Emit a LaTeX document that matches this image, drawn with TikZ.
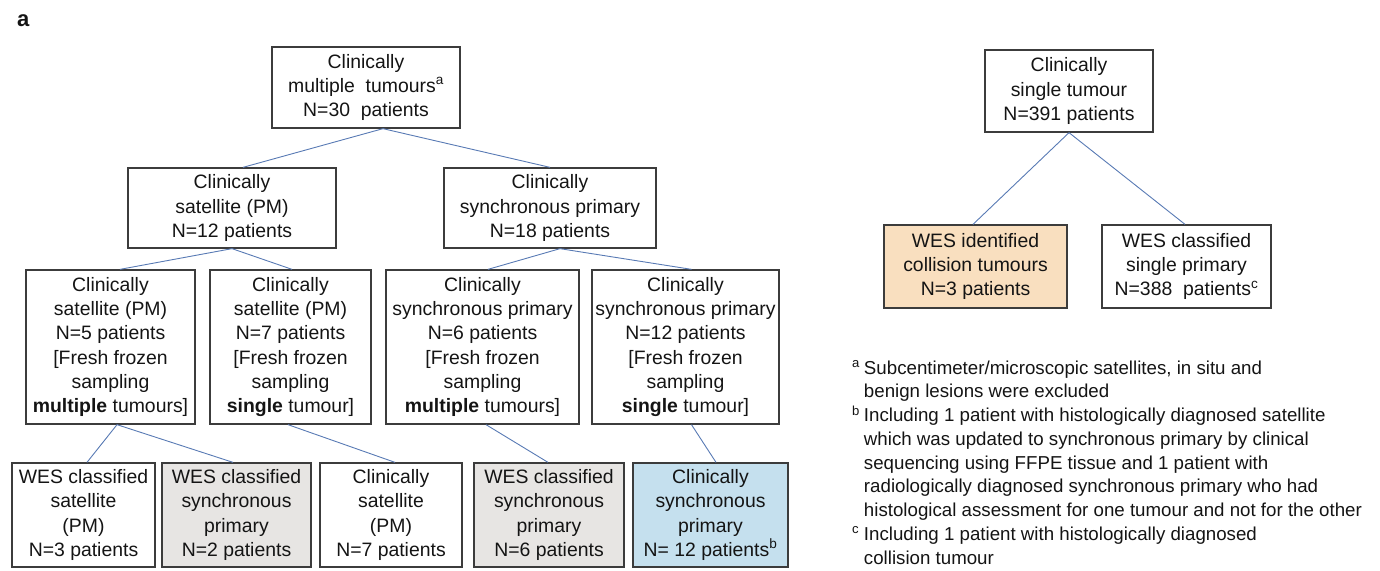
\documentclass[tikz,border=0pt]{standalone}
\usepackage{fontspec}
\setmainfont{Liberation Sans}
\definecolor{boxline}{RGB}{60,60,60}
\definecolor{conn}{RGB}{88,122,180}
\definecolor{txt}{RGB}{20,20,20}
\definecolor{grayfill}{RGB}{231,229,227}
\definecolor{bluefill}{RGB}{197,224,238}
\definecolor{orangefill}{RGB}{249,223,191}
\tikzset{
  box/.style={draw=boxline, line width=1.3pt, inner sep=0pt, align=center, text=txt,
    font={\fontsize{19.4}{24.2}\selectfont}},
  link/.style={draw=conn, line width=0.9pt},
  note/.style={anchor=base west, inner sep=0pt, text=txt, font={\fontsize{18.7}{23.75}\selectfont}}
}
\begin{document}
\begin{tikzpicture}[x=1pt,y=-1pt]
\useasboundingbox (0,0) rectangle (1380,570);
\node[anchor=base west, inner sep=0pt, font={\fontsize{22}{22}\selectfont\bfseries}, text=txt] (lbl) at (17,26) {a};

% left tree
\node[box, minimum width=188pt, minimum height=81pt] (top) at (366,87.5) {Clinically\\multiple\ \ tumours\textsuperscript{a}\\N=30\ \ patients};
\node[box, minimum width=208pt, minimum height=80pt] (sat) at (232,208) {Clinically\\satellite (PM)\\N=12 patients};
\node[box, minimum width=212pt, minimum height=80pt] (syn) at (550,208) {Clinically\\synchronous primary\\N=18 patients};

\node[box, minimum width=169pt, minimum height=154pt] (A) at (110.5,347) {Clinically\\satellite (PM)\\N=5 patients\\{[}Fresh frozen\\sampling\\\textbf{multiple} tumours{]}};
\node[box, minimum width=161pt, minimum height=154pt] (B) at (290.5,347) {Clinically\\satellite (PM)\\N=7 patients\\{[}Fresh frozen\\sampling\\\textbf{single} tumour{]}};
\node[box, minimum width=193pt, minimum height=154pt] (C) at (482.5,347) {Clinically\\synchronous primary\\N=6 patients\\{[}Fresh frozen\\sampling\\\textbf{multiple} tumours{]}};
\node[box, minimum width=187pt, minimum height=154pt] (D) at (685.5,347) {Clinically\\synchronous primary\\N=12 patients\\{[}Fresh frozen\\sampling\\\textbf{single} tumour{]}};

\node[box, minimum width=143pt, minimum height=104pt] (E1) at (83.5,515) {WES classified\\satellite\\(PM)\\N=3 patients};
\node[box, fill=grayfill, minimum width=149pt, minimum height=104pt] (E2) at (236.5,515) {WES classified\\synchronous\\primary\\N=2 patients};
\node[box, minimum width=142pt, minimum height=104pt] (E3) at (391,515) {Clinically\\satellite\\(PM)\\N=7 patients};
\node[box, fill=grayfill, minimum width=150pt, minimum height=104pt] (E4) at (549,515) {WES classified\\synchronous\\primary\\N=6 patients};
\node[box, fill=bluefill, minimum width=155pt, minimum height=104pt] (E5) at (710.5,515) {Clinically\\synchronous\\primary\\N= 12 patients\textsuperscript{b}};

% right tree
\node[box, minimum width=168pt, minimum height=82pt] (single) at (1069,91) {Clinically\\single tumour\\N=391 patients};
\node[box, fill=orangefill, minimum width=183pt, minimum height=83pt] (coll) at (975.5,266.5) {WES identified\\collision tumours\\N=3 patients};
\node[box, minimum width=169pt, minimum height=83pt] (sp) at (1186.5,266.5) {WES classified\\single primary\\N=388\ \ patients\textsuperscript{c}};

% connectors
\draw[link] ([xshift=17pt]top.south) -- ([xshift=11pt]sat.north);
\draw[link] ([xshift=17pt]top.south) -- (syn.north);
\draw[link] (sat.south) -- ([xshift=9.5pt]A.north);
\draw[link] (sat.south) -- ([xshift=1.5pt]B.north);
\draw[link] ([xshift=10pt]syn.south) -- ([xshift=5.5pt]C.north);
\draw[link] ([xshift=10pt]syn.south) -- ([xshift=6pt]D.north);
\draw[link] ([xshift=6.5pt]A.south) -- ([xshift=3.5pt]E1.north);
\draw[link] ([xshift=6.5pt]A.south) -- ([xshift=-3.5pt]E2.north);
\draw[link] ([xshift=-2.5pt]B.south) -- ([xshift=4pt]E3.north);
\draw[link] ([xshift=3.5pt]C.south) -- ([xshift=-1pt]E4.north);
\draw[link] ([xshift=6pt]D.south) -- ([xshift=5.5pt]E5.north);
\draw[link] (single.south) -- ([xshift=-2.5pt]coll.north);
\draw[link] (single.south) -- ([xshift=-1.5pt]sp.north);

% footnotes
\node[note] (fn) at (852,374) {\begin{tabular}[t]{@{}l@{\hspace{4pt}}l@{}}
\textsuperscript{a} & Subcentimeter/microscopic satellites, in situ and\\
 & benign lesions were excluded\\
\textsuperscript{b} & Including 1 patient with histologically diagnosed satellite\\
 & which was updated to synchronous primary by clinical\\
 & sequencing using FFPE tissue and 1 patient with\\
 & radiologically diagnosed synchronous primary who had\\
 & histological assessment for one tumour and not for the other\\
\textsuperscript{c} & Including 1 patient with histologically diagnosed\\
 & collision tumour
\end{tabular}};
\end{tikzpicture}
\end{document}
